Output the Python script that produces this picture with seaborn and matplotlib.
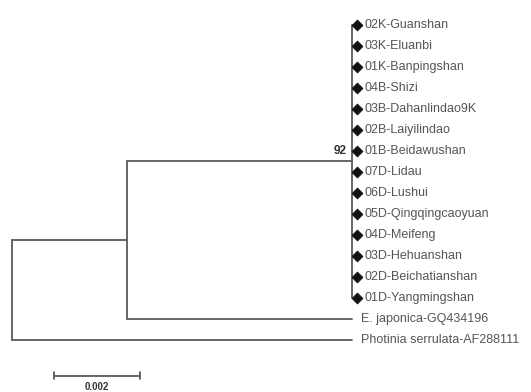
import matplotlib
matplotlib.use("Agg")
import matplotlib.pyplot as plt
import seaborn as sns
import pandas as pd
import numpy as np

sns.set_style("white")
plt.rcParams["font.family"] = ["Liberation Sans", "DejaVu Sans"]

# leaf labels of the main clade (top to bottom)
clade_labels = [
    "02K-Guanshan", "03K-Eluanbi", "01K-Banpingshan", "04B-Shizi",
    "03B-Dahanlindao9K", "02B-Laiyilindao", "01B-Beidawushan", "07D-Lidau",
    "06D-Lushui", "05D-Qingqingcaoyuan", "04D-Meifeng", "03D-Hehuanshan",
    "02D-Beichatianshan", "01D-Yangmingshan",
]
outgroup_labels = ["E. japonica-GQ434196", "Photinia serrulata-AF288111"]

# branch lengths (substitutions per site)
root_to_inner = 0.0027
inner_to_clade = 0.0053
japonica_len = 0.0053
photinia_len = 0.008
bootstrap = 92
scale_len = 0.002

line_col = "#5a5a5a"
txt_col = "#555555"
lw = 1.3

fig = plt.figure(figsize=(5.31, 3.92), dpi=100)
ax = fig.add_axes([0, 0, 1, 1])

n_clade = len(clade_labels)
clade_y = np.arange(n_clade)
jap_y = n_clade
pho_y = n_clade + 1

x_root = 0.0
x_inner = root_to_inner
x_clade = x_inner + inner_to_clade
clade_mid = (clade_y[0] + clade_y[-1]) / 2
inner_mid = (clade_mid + jap_y) / 2

# root
ax.plot([x_root, x_root], [inner_mid, pho_y], color=line_col, lw=lw)
ax.plot([x_root, x_inner], [inner_mid, inner_mid], color=line_col, lw=lw)
ax.plot([x_root, x_root + photinia_len], [pho_y, pho_y], color=line_col, lw=lw)
# inner node
ax.plot([x_inner, x_inner], [clade_mid, jap_y], color=line_col, lw=lw)
ax.plot([x_inner, x_clade], [clade_mid, clade_mid], color=line_col, lw=lw)
ax.plot([x_inner, x_inner + japonica_len], [jap_y, jap_y], color=line_col, lw=lw)
# clade comb
ax.plot([x_clade, x_clade], [clade_y[0], clade_y[-1]], color=line_col, lw=lw)

leaves = pd.DataFrame({"x": x_clade + 0.00012, "y": clade_y})
sns.scatterplot(data=leaves, x="x", y="y", marker="D", s=32, color="#111111",
                edgecolor="#111111", ax=ax, zorder=3)

for yy, lab in zip(clade_y, clade_labels):
    ax.text(x_clade + 0.0003, yy, lab, fontsize=9, color=txt_col,
            va="center", ha="left")
ax.text(x_inner + japonica_len + 0.0002, jap_y, outgroup_labels[0],
        fontsize=9, color=txt_col, va="center", ha="left")
ax.text(x_root + photinia_len + 0.0002, pho_y, outgroup_labels[1],
        fontsize=9, color=txt_col, va="center", ha="left")

ax.text(x_clade - 0.00012, clade_mid - 0.5, str(bootstrap), fontsize=8.5,
        fontweight="bold", color="#333333", va="center", ha="right")

# scale bar
sb_x0 = 0.001
sb_y = 16.7
ax.plot([sb_x0, sb_x0 + scale_len], [sb_y, sb_y], color=line_col, lw=lw)
for xe in (sb_x0, sb_x0 + scale_len):
    ax.plot([xe, xe], [sb_y - 0.15, sb_y + 0.15], color=line_col, lw=lw)
ax.text(sb_x0 + scale_len / 2, sb_y + 0.3, f"{scale_len:.3f}", fontsize=7,
        fontweight="bold", color="#333333", ha="center", va="top")

ax.set_xlim(-0.000282, 0.01221)
ax.set_ylim(17.48, -1.19)
ax.axis("off")

fig.savefig("out.png", dpi=100)
